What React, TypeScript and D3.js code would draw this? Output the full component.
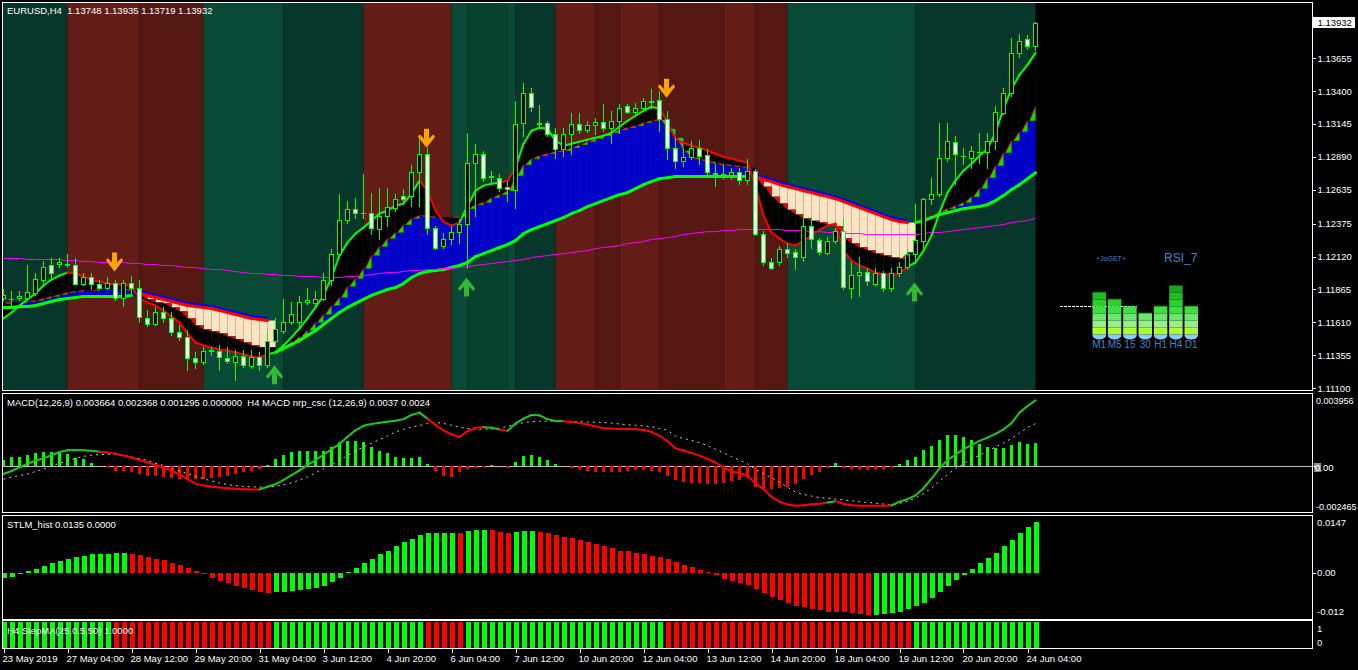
import React from "react";
import * as d3 from "d3";

const FONT = "'Liberation Sans', Arial, sans-serif";

const timeLabels = ["23 May 2019","27 May 04:00","28 May 12:00","29 May 20:00","31 May 04:00","3 Jun 12:00","4 Jun 20:00","6 Jun 04:00","7 Jun 12:00","10 Jun 20:00","12 Jun 04:00","13 Jun 12:00","14 Jun 20:00","18 Jun 04:00","19 Jun 12:00","20 Jun 20:00","24 Jun 04:00"];

const opens = [1.11803,1.11795,1.11803,1.11803,1.11834,1.11942,1.12051,1.12066,1.12051,1.12058,
1.11911,1.11958,1.11904,1.11880,1.11919,1.11803,1.11919,1.11880,1.11641,1.11594,
1.11687,1.11641,1.11533,1.11494,1.11332,1.11301,1.11393,1.11386,1.11332,1.11301,
1.11347,1.11270,1.11339,1.11278,1.11463,1.11540,1.11610,1.11610,1.11765,1.11757,
1.11788,1.11935,1.12143,1.12406,1.12491,1.12460,1.12460,1.12337,1.12437,1.12499,
1.12592,1.12592,1.12777,1.12916,1.12344,1.12205,1.12259,1.12313,1.12375,1.12847,
1.12916,1.12746,1.12731,1.12661,1.12638,1.13156,1.13388,1.13156,1.13156,1.13071,
1.12955,1.13071,1.13148,1.13102,1.13140,1.13164,1.13117,1.13171,1.13287,1.13241,
1.13272,1.13326,1.13334,1.13187,1.12963,1.12862,1.12893,1.12963,1.12909,1.12769,
1.12762,1.12754,1.12777,1.12715,1.12785,1.12298,1.12081,1.12074,1.12182,1.12159,
1.12120,1.12360,1.12252,1.12151,1.12244,1.12321,1.11880,1.11981,1.12004,1.11911,
1.11996,1.11873,1.11989,1.12043,1.12143,1.12244,1.12568,1.12607,1.12885,1.13009,
1.12901,1.12885,1.12932,1.12932,1.13017,1.13233,1.13388,1.13697,1.13805,1.13748];

const highs = [1.11865,1.11850,1.11857,1.12051,1.11996,1.12089,1.12112,1.12105,1.12143,1.12105,
1.11996,1.11989,1.11935,1.11958,1.11935,1.11942,1.11973,1.11942,1.11703,1.11726,
1.11726,1.11687,1.11587,1.11548,1.11378,1.11417,1.11417,1.11432,1.11417,1.11393,
1.11393,1.11393,1.11378,1.11548,1.11641,1.11788,1.11765,1.11811,1.11880,1.11857,
1.11996,1.12182,1.12607,1.12553,1.12576,1.12762,1.12615,1.12653,1.12653,1.12607,
1.12646,1.12831,1.13040,1.12963,1.12360,1.12306,1.12360,1.12414,1.13079,1.12994,
1.12939,1.12785,1.12762,1.12708,1.13326,1.13465,1.13426,1.13295,1.13171,1.13117,
1.13117,1.13233,1.13233,1.13171,1.13195,1.13303,1.13249,1.13303,1.13303,1.13311,
1.13349,1.13419,1.13403,1.13249,1.13040,1.12963,1.13017,1.13025,1.12955,1.12839,
1.12839,1.12808,1.12808,1.12878,1.12800,1.12321,1.12112,1.12205,1.12228,1.12182,
1.12453,1.12429,1.12267,1.12275,1.12344,1.12422,1.12074,1.12120,1.12035,1.12035,
1.12012,1.12035,1.12074,1.12182,1.12530,1.12576,1.12731,1.13156,1.13156,1.13055,
1.12963,1.12978,1.13079,1.13079,1.13287,1.13426,1.13813,1.13844,1.13836,1.13935];

const lows = [1.11780,1.11741,1.11780,1.11780,1.11819,1.11919,1.11950,1.12043,1.12043,1.11904,
1.11896,1.11865,1.11865,1.11865,1.11780,1.11741,1.11834,1.11610,1.11579,1.11587,
1.11610,1.11509,1.11471,1.11239,1.11254,1.11285,1.11355,1.11239,1.11293,1.11162,
1.11262,1.11254,1.11239,1.11262,1.11448,1.11525,1.11594,1.11571,1.11749,1.11741,
1.11780,1.11896,1.12120,1.12383,1.12422,1.12422,1.12298,1.12259,1.12360,1.12476,
1.12553,1.12514,1.12514,1.12298,1.12182,1.12190,1.12221,1.12228,1.12035,1.12437,
1.12708,1.12684,1.12630,1.12553,1.12499,1.13055,1.13249,1.13117,1.13055,1.12885,
1.12901,1.12916,1.13079,1.13086,1.13071,1.13094,1.13001,1.13079,1.13233,1.13226,
1.13264,1.13272,1.13094,1.12878,1.12808,1.12824,1.12878,1.12839,1.12762,1.12669,
1.12723,1.12723,1.12684,1.12684,1.12290,1.12051,1.12020,1.12058,1.12120,1.12027,
1.12089,1.12190,1.12143,1.12136,1.12228,1.11865,1.11803,1.11811,1.11896,1.11896,
1.11857,1.11857,1.11973,1.12027,1.12089,1.12190,1.12530,1.12592,1.12862,1.12684,
1.12839,1.12808,1.12847,1.12808,1.12955,1.13226,1.13365,1.13666,1.13728,1.13719];

const closes = [1.11826,1.11788,1.11811,1.11842,1.11950,1.12043,1.11989,1.12081,1.12066,1.11911,
1.11958,1.11904,1.11880,1.11919,1.11803,1.11919,1.11880,1.11649,1.11594,1.11687,
1.11641,1.11533,1.11494,1.11332,1.11301,1.11386,1.11390,1.11339,1.11308,1.11347,
1.11278,1.11339,1.11278,1.11463,1.11556,1.11610,1.11672,1.11772,1.11780,1.11788,
1.11942,1.12143,1.12406,1.12491,1.12460,1.12455,1.12344,1.12437,1.12507,1.12568,
1.12568,1.12777,1.12916,1.12344,1.12190,1.12259,1.12313,1.12375,1.12847,1.12916,
1.12731,1.12739,1.12653,1.12646,1.13148,1.13388,1.13280,1.13148,1.13071,1.12955,
1.13071,1.13148,1.13102,1.13140,1.13164,1.13117,1.13171,1.13272,1.13241,1.13272,
1.13326,1.13320,1.13187,1.12963,1.12862,1.12893,1.12963,1.12901,1.12777,1.12762,
1.12758,1.12777,1.12715,1.12785,1.12298,1.12074,1.12035,1.12182,1.12151,1.12120,
1.12360,1.12259,1.12159,1.12244,1.12321,1.11888,1.11981,1.12004,1.11927,1.11996,
1.11873,1.11996,1.12043,1.12143,1.12252,1.12568,1.12607,1.12885,1.13017,1.12916,
1.12897,1.12939,1.12928,1.13017,1.13241,1.13388,1.13697,1.13790,1.13751,1.13932];

// fast trend line (green/red)
const fastLine = [1.11641,1.11687,1.11741,1.11788,1.11834,1.11896,1.11942,1.11973,1.11996,1.11989,
1.11966,1.11935,1.11927,1.11911,1.11904,1.11904,1.11888,1.11795,1.11765,1.11741,
1.11703,1.11656,1.11610,1.11525,1.11455,1.11432,1.11417,1.11401,1.11393,1.11378,
1.11363,1.11347,1.11339,1.11363,1.11378,1.11432,1.11494,1.11564,1.11641,1.11726,
1.11819,1.11958,1.12128,1.12228,1.12298,1.12344,1.12398,1.12453,1.12476,1.12514,
1.12530,1.12607,1.12708,1.12630,1.12476,1.12391,1.12360,1.12383,1.12514,1.12630,
1.12669,1.12684,1.12692,1.12708,1.12808,1.12994,1.13094,1.13117,1.13110,1.13017,
1.12978,1.12994,1.13009,1.13025,1.13040,1.13055,1.13079,1.13125,1.13171,1.13210,
1.13249,1.13280,1.13264,1.13156,1.13032,1.13001,1.12978,1.12963,1.12939,1.12916,
1.12893,1.12878,1.12862,1.12847,1.12669,1.12437,1.12306,1.12259,1.12221,1.12205,
1.12244,1.12282,1.12329,1.12360,1.12375,1.12166,1.12089,1.12051,1.12027,1.11996,
1.11981,1.11973,1.11989,1.12043,1.12074,1.12166,1.12282,1.12460,1.12615,1.12708,
1.12785,1.12839,1.12901,1.12955,1.13079,1.13264,1.13419,1.13527,1.13604,1.13697];

// direction of the fast line (1 up / 0 down)
const fastTrend = [1,1,1,1,1,1,1,1,1,0,
0,0,0,0,0,0,0,0,0,0,
0,0,0,0,0,0,0,0,0,0,
0,0,0,0,1,1,1,1,1,1,
1,1,1,1,1,1,1,1,1,1,
1,1,1,0,0,0,0,0,1,1,
1,1,1,0,0,1,1,1,1,1,
1,1,1,1,1,1,1,1,1,1,
1,1,1,0,0,0,0,0,0,0,
0,0,0,0,0,0,0,0,0,0,
0,0,0,0,0,0,0,0,0,0,
0,0,0,0,1,1,1,1,1,1,
1,1,1,1,1,1,1,1,1,1];

// stepped middle line
const stepLine = [1.11757,1.11765,1.11765,1.11772,1.11780,1.11795,1.11811,1.11826,1.11842,1.11850,
1.11857,1.11857,1.11865,1.11865,1.11865,1.11865,1.11857,1.11819,1.11788,1.11765,
1.11757,1.11726,1.11695,1.11641,1.11587,1.11556,1.11540,1.11525,1.11502,1.11479,
1.11455,1.11432,1.11417,1.11417,1.11393,1.11424,1.11455,1.11502,1.11548,1.11610,
1.11672,1.11741,1.11803,1.11888,1.11950,1.12027,1.12128,1.12197,1.12259,1.12306,
1.12367,1.12414,1.12437,1.12429,1.12422,1.12422,1.12422,1.12429,1.12491,1.12522,
1.12538,1.12576,1.12599,1.12630,1.12746,1.12831,1.12878,1.12901,1.12916,1.12932,
1.12939,1.12963,1.12986,1.13009,1.13032,1.13055,1.13079,1.13102,1.13117,1.13133,
1.13156,1.13171,1.13179,1.13110,1.13040,1.12939,1.12885,1.12870,1.12854,1.12839,
1.12831,1.12824,1.12816,1.12808,1.12723,1.12661,1.12584,1.12530,1.12483,1.12445,
1.12414,1.12398,1.12383,1.12367,1.12352,1.12259,1.12221,1.12190,1.12166,1.12143,
1.12128,1.12112,1.12105,1.12151,1.12391,1.12414,1.12437,1.12468,1.12491,1.12514,
1.12538,1.12584,1.12646,1.12731,1.12824,1.12924,1.13017,1.13086,1.13171,1.13280];

// slow line (cloud edge)
const slowLine = [1.11726,1.11726,1.11734,1.11734,1.11741,1.11757,1.11772,1.11788,1.11795,1.11803,
1.11811,1.11811,1.11811,1.11811,1.11811,1.11811,1.11819,1.11834,1.11819,1.11803,
1.11788,1.11772,1.11757,1.11741,1.11734,1.11726,1.11718,1.11703,1.11687,1.11672,
1.11656,1.11641,1.11633,1.11625,1.11378,1.11409,1.11440,1.11471,1.11509,1.11548,
1.11594,1.11641,1.11687,1.11726,1.11757,1.11788,1.11819,1.11842,1.11865,1.11880,
1.11911,1.11958,1.11989,1.12004,1.12012,1.12020,1.12035,1.12051,1.12074,1.12120,
1.12143,1.12166,1.12190,1.12213,1.12244,1.12298,1.12329,1.12352,1.12375,1.12398,
1.12422,1.12453,1.12476,1.12507,1.12530,1.12553,1.12576,1.12599,1.12615,1.12646,
1.12677,1.12700,1.12723,1.12731,1.12739,1.12739,1.12739,1.12739,1.12739,1.12739,
1.12739,1.12739,1.12739,1.12739,1.12739,1.12715,1.12700,1.12677,1.12661,1.12646,
1.12630,1.12615,1.12599,1.12584,1.12568,1.12545,1.12522,1.12499,1.12476,1.12453,
1.12429,1.12406,1.12391,1.12383,1.12383,1.12398,1.12422,1.12445,1.12460,1.12476,
1.12491,1.12499,1.12507,1.12522,1.12553,1.12592,1.12638,1.12677,1.12723,1.12769];

// long moving average (magenta)
const maLine = [1.12105,1.12105,1.12105,1.12097,1.12097,1.12097,1.12097,1.12097,1.12089,
1.12089,1.12081,1.12081,1.12074,1.12074,1.12074,1.12074,1.12066,1.12066,
1.12058,1.12058,1.12051,1.12051,1.12043,1.12035,1.12035,1.12027,
1.12020,1.12020,1.12012,1.12004,1.11996,1.11989,
1.11989,1.11981,1.11981,1.11973,1.11973,1.11966,1.11966,1.11966,1.11958,1.11958,
1.11958,1.11966,1.11966,1.11973,1.11981,1.11989,1.11996,1.11996,1.12004,1.12012,1.12012,1.12020,
1.12020,1.12027,1.12027,1.12035,1.12043,1.12051,1.12058,1.12066,1.12074,1.12081,1.12089,1.12097,1.12112,
1.12120,1.12128,1.12136,1.12143,1.12151,1.12159,1.12166,1.12182,
1.12190,1.12197,1.12205,1.12221,1.12228,1.12236,1.12252,1.12259,1.12267,1.12275,1.12290,
1.12298,1.12306,1.12313,1.12313,1.12321,1.12321,1.12329,1.12329,1.12329,1.12329,1.12329,1.12329,
1.12321,1.12321,1.12321,1.12313,1.12313,1.12306,1.12306,1.12298,
1.12298,1.12298,1.12290,1.12290,1.12290,1.12290,1.12290,1.12290,1.12290,
1.12298,1.12306,1.12306,1.12313,1.12321,1.12329,1.12337,1.12344,1.12352,1.12360,1.12367,1.12383,1.12391,1.12398,1.12414];

const macdMain = [-0.00042,-0.00025,-0.00005,0.00015,0.00032,0.00046,0.00062,0.0008,0.0009,0.00091,
0.0009,0.00087,0.00082,0.00078,0.0007,0.00061,0.0005,0.00035,0.00022,0.00008,
-0.00008,-0.00022,-0.00045,-0.0007,-0.00095,-0.00105,-0.00112,-0.00117,-0.0012,-0.00123,
-0.00126,-0.00127,-0.00127,-0.00112,-0.00098,-0.00075,-0.00048,-0.00022,0.00008,0.00035,
0.00065,0.00095,0.00125,0.00165,0.002,0.00225,0.00235,0.00242,0.00248,0.00253,
0.00262,0.00285,0.00298,0.00265,0.0023,0.002,0.00178,0.00163,0.00195,0.00214,
0.00217,0.00215,0.00205,0.00197,0.00238,0.00265,0.00285,0.00283,0.00262,0.00252,
0.0025,0.00246,0.0024,0.00232,0.00222,0.00212,0.0021,0.00208,0.00207,0.00206,
0.00202,0.00192,0.0017,0.0014,0.001,0.00088,0.00075,0.0006,0.00042,0.00022,
-0.00005,-0.00028,-0.00036,-0.0005,-0.00095,-0.00126,-0.00168,-0.00195,-0.0021,-0.00218,
-0.00215,-0.00209,-0.00207,-0.002,-0.00192,-0.00208,-0.00215,-0.00218,-0.00218,-0.00218,
-0.00217,-0.00216,-0.00195,-0.00181,-0.0016,-0.0012,-0.00068,-0.0001,0.00035,0.00065,
0.00096,0.00118,0.00142,0.0016,0.0018,0.00205,0.0024,0.00298,0.00335,0.00366];

const macdSignal = [-0.0007,-0.0006,-0.0005,-0.00042,-0.00028,-0.00015,0.00002,0.00018,0.00031,0.00045,
0.00056,0.00062,0.00066,0.00068,0.00066,0.00061,0.00053,0.00043,0.00033,0.00018,
0.00005,-0.0001,-0.00025,-0.0004,-0.00055,-0.00068,-0.0008,-0.00092,-0.001,-0.00106,
-0.00111,-0.00113,-0.00114,-0.00114,-0.0011,-0.00102,-0.0009,-0.00075,-0.00058,-0.00035,
-0.00012,0.00008,0.00035,0.0006,0.00085,0.00108,0.00128,0.00148,0.00168,0.00192,
0.00205,0.00218,0.00226,0.00238,0.00244,0.00238,0.00228,0.00218,0.0021,0.00207,
0.00207,0.00207,0.00212,0.00222,0.00233,0.00242,0.00248,0.0025,0.00251,0.00251,
0.00251,0.0025,0.00248,0.00246,0.00245,0.00243,0.0024,0.00235,0.00231,0.00228,
0.00225,0.0022,0.0021,0.002,0.00168,0.00155,0.00145,0.00132,0.00115,0.00095,
0.00075,0.00055,0.00035,0.00015,-0.00015,-0.0004,-0.00062,-0.00088,-0.00115,-0.00142,
-0.00155,-0.00164,-0.00172,-0.00176,-0.0018,-0.00185,-0.0019,-0.00195,-0.00199,-0.00203,
-0.00208,-0.00214,-0.00205,-0.00192,-0.00175,-0.0015,-0.0012,-0.0008,-0.00045,-0.00012,
0.00015,0.0004,0.00062,0.00085,0.00108,0.0013,0.00155,0.00185,0.00215,0.00237];

const macdHist = [0.00035,0.0005,0.0005,0.00065,0.00074,0.00081,0.00081,0.00074,0.00068,0.00046,
0.00041,0.00018,0.00002,-0.00003,-0.00024,-0.00024,-0.00033,-0.00042,-0.00052,-0.00055,
-0.00061,-0.00066,-0.0007,-0.00074,-0.0007,-0.0007,-0.00066,-0.00061,-0.00052,-0.00042,
-0.00033,-0.00024,-0.00015,0.00007,0.00044,0.00065,0.00081,0.00087,0.00087,0.00087,
0.00087,0.00105,0.00133,0.00142,0.00142,0.00133,0.00105,0.00087,0.00074,0.0005,
0.00046,0.00046,0.0005,0.00013,-0.00024,-0.00055,-0.00061,-0.00033,-0.00015,-0.00009,
-0.00002,0.00007,0,-0.00006,0.00026,0.00059,0.00065,0.00054,0.00037,0.00013,
0,-0.00006,-0.00015,-0.00024,-0.0003,-0.00033,-0.00033,-0.0003,-0.00024,-0.0002,
-0.00018,-0.00024,-0.0003,-0.00055,-0.00074,-0.00087,-0.00092,-0.00092,-0.00098,-0.00098,
-0.00092,-0.00079,-0.00076,-0.00066,-0.00111,-0.00126,-0.00122,-0.00118,-0.00111,-0.00098,
-0.0007,-0.00048,-0.0003,-0.00007,0.00018,-0.00009,-0.00013,-0.00013,-0.0002,-0.00013,
-0.00013,-0.00002,0.00013,0.00035,0.00052,0.0009,0.00113,0.00146,0.00173,0.00173,
0.00162,0.00146,0.00124,0.00107,0.00102,0.00102,0.00118,0.00135,0.00124,0.0013];

const stlmHist = [-0.0014,-0.001,-0.0004,0.0005,0.0011,0.0019,0.0025,0.0032,0.0038,0.0043,
0.0046,0.005,0.0051,0.00512,0.00514,0.00515,0.0051,0.0048,0.0043,0.0037,
0.0034,0.0027,0.0021,0.0013,0.0005,-0.0003,-0.0013,-0.0021,-0.0027,-0.0034,
-0.004,-0.0045,-0.005,-0.0053,-0.0052,-0.0051,-0.0049,-0.0045,-0.0042,-0.0039,
-0.0034,-0.0024,-0.0013,0.0002,0.0013,0.0027,0.0037,0.0049,0.0059,0.007,
0.0081,0.0091,0.0101,0.0106,0.01062,0.01064,0.01066,0.0106,0.0112,0.0114,
0.01142,0.0114,0.0109,0.0107,0.0109,0.011,0.0112,0.0109,0.0105,0.0101,
0.0096,0.0092,0.0088,0.0081,0.0077,0.0072,0.0066,0.0059,0.0057,0.0053,
0.005,0.0045,0.0041,0.0037,0.003,0.0022,0.0016,0.0008,0.0003,-0.0007,
-0.0016,-0.0021,-0.0026,-0.0032,-0.0043,-0.0053,-0.0064,-0.0071,-0.0079,-0.0088,
-0.0092,-0.0096,-0.01,-0.0103,-0.01035,-0.0105,-0.0108,-0.0109,-0.0112,-0.0111,
-0.011,-0.0108,-0.0103,-0.0097,-0.0089,-0.0079,-0.0068,-0.0052,-0.0036,-0.002,
-0.0007,0.001,0.0025,0.004,0.0053,0.007,0.0088,0.0106,0.0122,0.0135];

const stepMaTrend = [1,1,1,1,1,1,1,1,1,1,1,1,1,1,
0,0,0,0,0,0,0,0,0,0,0,0,0,0,0,0,0,0,0,0,
1,1,1,1,1,1,1,1,1,1,1,1,1,1,1,1,1,1,1,
0,0,0,0,0,
1,1,1,1,1,1,1,1,1,1,1,1,1,1,1,1,1,1,1,1,1,1,1,1,1,
0,0,0,0,0,0,0,0,0,0,0,0,0,0,0,0,0,0,0,0,0,0,0,0,0,0,0,0,0,0,0,
1,1,1,1,1,1,1,1,1,1,1,1,1,1,1,1];

const bandStarts = [0,8,17,25,35,45,56,58,63,64,69,74,77,82,90,94,98,114];
const bandTones = ["dg","r","dr","g","dg","r","g","mg","g","dg","r","dr","r","dr","r","dr","g","dg"];

const sellBars = [14,53,83];
const sellPrices = [1.12004,1.12963,1.13349];
const buyBars = [34,58,114];
const buyPrices = [1.11278,1.11958,1.11919];

const priceTicks = [1.13655,1.134,1.13145,1.1289,1.12635,1.12375,1.1212,1.11865,1.1161,1.11355,1.111];

const rsiFrames = ["M1","M5","15","30","H1","H4","D1"];
const rsiValues = [71,61,51,41,51,80,51];
const rsiLayerColors = ["#87cefa","#adff2f","#95ee8f","#6ee66e","#40df40","#2bd02b","#22bd22","#1ca51c","#178e17"];

const toneColor: Record<string,string> = { dg: "#06372a", g: "#084a35", mg: "#07422f", r: "#631c16", dr: "#561812" };

const N = closes.length;
const L = 2.5, R = 1312.5;
const x = d3.scaleLinear().domain([0, N - 1]).range([3.5, 3.5 + 8 * (N - 1)]);
const yP = d3.scaleLinear().domain([1.111, 1.13655]).range([388.3, 58.3]);
const yM = d3.scaleLinear().domain([-0.002465, 0.003956]).range([511, 395]);
const yS = d3.scaleLinear().domain([-0.012, 0.0147]).range([618, 517.5]);
const yT = d3.scaleLinear().domain([0, 1]).range([648, 622]);
const yR = d3.scaleLinear().domain([0, 100]).range([341.5, 271.5]);
const xR = d3.scaleBand().domain(rsiFrames).range([1092.5, 1198]).paddingInner(0.12);

const fmt5 = d3.format(".5f");
const px = (v: number) => Math.round(v) + 0.5;

function arrowPts(cx: number, tip: number, down: boolean) {
  const pts = [[-2.5,0],[2.5,0],[2.5,10],[7,5.5],[8.5,8],[0,19],[-8.5,8],[-7,5.5],[-2.5,10]];
  return pts.map(([dx, dy]) => `${cx + dx},${down ? tip - 19 + dy : tip + 19 - dy}`).join(" ");
}

export default function App() {
  const idx = d3.range(N);
  const up = idx.map(i => stepLine[i] >= slowLine[i]);
  const segs = d3.range(N - 1);
  const sigLine = d3.line<number>().x(i => x(i)).y(i => yM(macdSignal[i]));
  const maPath = d3.line<number>().x(i => x(i)).y(i => yP(maLine[i]));

  const txt = { fontFamily: FONT, fontSize: 9.5, fill: "#fff", whiteSpace: "pre" as const };

  return (
    <svg width={1358} height={670} style={{ position: "fixed", left: 0, top: 0, display: "block" }}>
      <defs>
        <clipPath id="mainClip"><rect x={3} y={3} width={1309} height={387} /></clipPath>
        <clipPath id="macdClip"><rect x={3} y={394} width={1309} height={118} /></clipPath>
      </defs>
      <rect x={0} y={0} width={1358} height={670} fill="#000" />

      {/* MAIN PANEL */}
      <g clipPath="url(#mainClip)">
        {bandStarts.map((s, k) => {
          const e = k + 1 < bandStarts.length ? bandStarts[k + 1] : N - 1;
          const x0 = k === 0 ? 3 : x(s);
          return <rect key={"b" + k} x={x0} y={3} width={x(e) - x0} height={387} fill={toneColor[bandTones[k]]} />;
        })}
        {segs.map(i => {
          const cEnd = up[i] === up[i + 1] ? slowLine[i + 1] : slowLine[i];
          const p = `${x(i)},${yP(stepLine[i])} ${x(i + 1)},${yP(stepLine[i])} ${x(i + 1)},${yP(cEnd)} ${x(i)},${yP(slowLine[i])}`;
          return <polygon key={"c" + i} points={p} fill={up[i] ? "#0000cd" : "#ffe4c4"} />;
        })}
        {segs.map(i => {
          const p = `${x(i)},${yP(fastLine[i])} ${x(i + 1)},${yP(fastLine[i + 1])} ${x(i + 1)},${yP(stepLine[i])} ${x(i)},${yP(stepLine[i])}`;
          return <polygon key={"k" + i} points={p} fill="#000" />;
        })}
        {idx.slice(1).map(i => {
          if (stepLine[i] === stepLine[i - 1] || up[i] !== up[i - 1]) return null;
          const xi = x(i), y0 = yP(stepLine[i - 1]), y1 = yP(stepLine[i]);
          return (
            <g key={"t" + i}>
              <polygon points={`${xi},${y1} ${xi},${y0} ${xi - 6},${y0}`} fill={up[i] ? "#00e600" : "#ff0000"} />
              {up[i] && <line x1={xi - 6} y1={y0} x2={xi} y2={y1} stroke="#ff0000" strokeWidth={1} />}
            </g>
          );
        })}
        {segs.map(i => up[i] === up[i + 1] && !up[i] ? (
          <line key={"cb" + i} x1={x(i)} y1={yP(slowLine[i]) - 2.5} x2={x(i + 1)} y2={yP(slowLine[i + 1]) - 2.5} stroke="#0000ff" strokeWidth={2} />
        ) : null)}
        {segs.map(i => up[i] === up[i + 1] ? (
          <line key={"cl" + i} x1={x(i)} y1={yP(slowLine[i])} x2={x(i + 1)} y2={yP(slowLine[i + 1])}
            stroke={up[i] ? "#00ff00" : "#ff0000"} strokeWidth={3} strokeLinecap="round" />
        ) : null)}
        <path d={maPath(idx) || ""} fill="none" stroke="#ff00ff" strokeWidth={1} />
        {segs.map(i => (
          <line key={"a" + i} x1={x(i)} y1={yP(fastLine[i])} x2={x(i + 1)} y2={yP(fastLine[i + 1])}
            stroke={fastTrend[i + 1] ? "#00ff00" : "#ff0000"} strokeWidth={2} strokeLinecap="round" />
        ))}
        {idx.map(i => {
          const cx = x(i);
          const top = px(yP(Math.max(opens[i], closes[i])));
          const bot = px(yP(Math.min(opens[i], closes[i])));
          const bull = closes[i] >= opens[i];
          return (
            <g key={"cd" + i} shapeRendering="crispEdges">
              <line x1={cx} x2={cx} y1={Math.round(yP(highs[i]))} y2={Math.round(yP(lows[i])) + 1} stroke="#00ff00" strokeWidth={1} />
              {bot - top < 1 ? (
                <line x1={cx - 2.5} x2={cx + 2.5} y1={top} y2={top} stroke="#00ff00" strokeWidth={1} />
              ) : (
                <rect x={cx - 2} y={top} width={4} height={bot - top} fill={bull ? "#000" : "#fff"} stroke="#00ff00" strokeWidth={1} />
              )}
            </g>
          );
        })}
        {sellBars.map((b, k) => (
          <polygon key={"s" + k} points={arrowPts(x(b) - 1, yP(sellPrices[k]), true)} fill="#ffa500" />
        ))}
        {buyBars.map((b, k) => (
          <polygon key={"u" + k} points={arrowPts(x(b) - 1, yP(buyPrices[k]), false)} fill="#33b833" />
        ))}
      </g>

      {/* RSI widget */}
      <line x1={1060} x2={1137} y1={yR(50)} y2={yR(50)} stroke="#fff" strokeWidth={1} strokeDasharray="3,1" />
      {rsiFrames.map((f, k) => {
        const bx = xR(f) as number, bw = xR.bandwidth();
        const v = rsiValues[k];
        const layers = d3.range(1, 9).filter(j => j * 10 < v).map(j => {
          const lo = j * 10, hi = Math.min(v, j * 10 + 10);
          return <rect key={j} x={bx} y={yR(hi)} width={bw} height={yR(lo) - yR(hi)} fill={rsiLayerColors[j]} />;
        });
        const capTop = yR(10);
        return (
          <g key={"r" + f}>
            {layers}
            <path d={`M${bx},${capTop} H${bx + bw} V${capTop + 1} A${bw / 2},4 0 0 1 ${bx},${capTop + 1} Z`} fill={rsiLayerColors[0]} />
            <text x={bx + bw / 2} y={347.5} textAnchor="middle" fontFamily={FONT} fontSize={10} fill="#4682c8">{f}</text>
          </g>
        );
      })}
      <text x={1096} y={261} fontFamily={FONT} fontSize={7} fill="#4682c8">+JoGET+</text>
      <text x={1164} y={261.5} fontFamily={FONT} fontSize={12} fill="#4682c8">RSI_7</text>

      <text x={7} y={14} style={txt} fontFamily={FONT} fontSize={9.5} fill="#fff">{`EURUSD,H4  ${fmt5(opens[N - 1])} ${fmt5(highs[N - 1])} ${fmt5(lows[N - 1])} ${fmt5(closes[N - 1])}`}</text>

      {/* MACD PANEL */}
      <line x1={L} x2={R} y1={Math.round(yM(0)) + 0.5} y2={Math.round(yM(0)) + 0.5} stroke="#c0c0c0" strokeWidth={1} />
      <g clipPath="url(#macdClip)">
        {idx.map(i => {
          const v = macdHist[i];
          const y0 = yM(0), y1 = yM(v);
          return <rect key={"mh" + i} x={x(i) - 1.5} y={Math.min(y0, y1)} width={3} height={Math.abs(y1 - y0)} fill={v >= 0 ? "#00ff00" : "#ff0000"} shapeRendering="crispEdges" />;
        })}
        <path d={sigLine(idx) || ""} fill="none" stroke="#d0d0d0" strokeWidth={1} strokeDasharray="2,4" />
        {segs.map(i => (
          <line key={"ml" + i} x1={x(i)} y1={yM(macdMain[i])} x2={x(i + 1)} y2={yM(macdMain[i + 1])}
            stroke={macdHist[i + 1] >= 0 ? "#1ec81e" : "#ff0000"} strokeWidth={2} strokeLinecap="round" />
        ))}
      </g>
      <text x={7} y={406} style={txt} fontFamily={FONT} fontSize={9.5} fill="#fff">{"MACD(12,26,9) 0.003664 0.002368 0.001295 0.000000  H4 MACD nrp_csc (12,26,9) 0.0037 0.0024"}</text>

      {/* STLM PANEL */}
      {idx.map(i => {
        const v = stlmHist[i];
        const y0 = yS(0), y1 = yS(v);
        const rising = i === 0 || v > stlmHist[i - 1];
        return <rect key={"st" + i} x={x(i) - 2} y={Math.min(y0, y1)} width={5} height={Math.max(1, Math.abs(y1 - y0))} fill={rising ? "#00ff00" : "#ff0000"} shapeRendering="crispEdges" />;
      })}
      <text x={7} y={528} style={txt} fontFamily={FONT} fontSize={9.5} fill="#fff">STLM_hist 0.0135 0.0000</text>

      {/* STEP MA PANEL */}
      {idx.map(i => (
        <rect key={"sm" + i} x={x(i) - 2} y={yT(1)} width={5} height={yT(0) - yT(1)} fill={stepMaTrend[i] ? "#00ff00" : "#ff0000"} shapeRendering="crispEdges" />
      ))}
      <text x={7} y={634} style={txt} fontFamily={FONT} fontSize={9.5} fill="#fff">H4 StepMA(25,0.5,50) 1.0000</text>

      {/* PANEL BORDERS */}
      <g fill="none" stroke="#fff" strokeWidth={1} shapeRendering="crispEdges">
        <rect x={L} y={2.5} width={R - L} height={388} />
        <rect x={L} y={393.5} width={R - L} height={119} />
        <rect x={L} y={515.5} width={R - L} height={104} />
        <rect x={L} y={620.5} width={R - L} height={28} />
      </g>

      {/* RIGHT AXIS */}
      {priceTicks.map(v => (
        <g key={"pt" + v}>
          <line x1={R} x2={R + 3.5} y1={px(yP(v))} y2={px(yP(v))} stroke="#fff" />
          <text x={1317.5} y={yP(v)} dy="0.35em" fontFamily={FONT} fontSize={9.5} fill="#fff">{fmt5(v)}</text>
        </g>
      ))}
      <rect x={1313} y={yP(closes[N - 1]) - 5.5} width={42} height={11} fill="#fff" />
      <text x={1317.5} y={yP(closes[N - 1])} dy="0.35em" fontFamily={FONT} fontSize={9.5} fill="#000">{fmt5(closes[N - 1])}</text>

      <text x={1316} y={yM(0.003956) + 6} dy="0.35em" fontFamily={FONT} fontSize={9} fill="#fff">0.003956</text>
      <rect x={1314} y={yM(0) - 3.5} width={7} height={9} fill="#909090" />
      <line x1={R} x2={R + 3.5} y1={px(yM(0))} y2={px(yM(0))} stroke="#fff" />
      <text x={1315} y={yM(0) + 1} dy="0.35em" fontFamily={FONT} fontSize={9.5} fill="#fff">0.00</text>
      <text x={1316} y={yM(-0.002465) - 4.5} dy="0.35em" fontFamily={FONT} fontSize={9} fill="#fff">-0.002465</text>

      <text x={1317} y={yS(0.0147) + 5} dy="0.35em" fontFamily={FONT} fontSize={9.5} fill="#fff">0.0147</text>
      <line x1={R} x2={R + 3.5} y1={px(yS(0))} y2={px(yS(0))} stroke="#fff" />
      <text x={1317} y={yS(0)} dy="0.35em" fontFamily={FONT} fontSize={9.5} fill="#fff">0.00</text>
      <text x={1317} y={yS(-0.012) - 6} dy="0.35em" fontFamily={FONT} fontSize={9.5} fill="#fff">-0.012</text>

      <text x={1317} y={yT(1) + 7} dy="0.35em" fontFamily={FONT} fontSize={9.5} fill="#fff">1</text>
      <text x={1317} y={yT(0) - 5.5} dy="0.35em" fontFamily={FONT} fontSize={9.5} fill="#fff">0</text>

      {/* TIME AXIS */}
      {timeLabels.map((t, k) => (
        <g key={"tl" + k}>
          <line x1={px(x(k * 8))} x2={px(x(k * 8))} y1={649} y2={653} stroke="#fff" />
          <text x={x(k * 8) - 1} y={662} fontFamily={FONT} fontSize={9.5} fill="#fff">{t}</text>
        </g>
      ))}
    </svg>
  );
}
